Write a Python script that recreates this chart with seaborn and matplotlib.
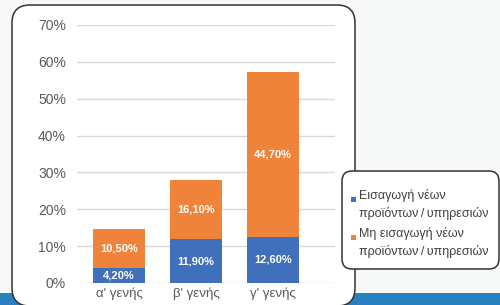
import numpy as np
import pandas as pd
import matplotlib
matplotlib.use("Agg")
import matplotlib.pyplot as plt
from matplotlib.patches import FancyBboxPatch, Rectangle
import seaborn as sns

sns.set_theme(style="white")
plt.rcParams['font.family'] = ['Liberation Sans', 'DejaVu Sans']

# data
categories = ["α' γενής", "β' γενής", "γ' γενής"]
introduced = [4.2, 11.9, 12.6]
not_introduced = [10.5, 16.1, 44.7]
series_names = ["Εισαγωγή νέων\nπροϊόντων\u2009/\u2009υπηρεσιών",
                "Μη εισαγωγή νέων\nπροϊόντων\u2009/\u2009υπηρεσιών"]
y_ticks = [0, 10, 20, 30, 40, 50, 60, 70]

BLUE = '#4070bb'
ORANGE = '#f0833a'
GREY = '#595959'

df = pd.DataFrame({'cat': categories,
                   'intro': introduced,
                   'nointro': not_introduced})
df['total'] = df['intro'] + df['nointro']

W, H = 500, 305
fig = plt.figure(figsize=(W / 100, H / 100), dpi=100)
fig.patch.set_facecolor('#f7f8f8')

# background layer in pixel coords (y down)
bg = fig.add_axes([0, 0, 1, 1], zorder=0)
bg.set_xlim(0, W)
bg.set_ylim(H, 0)
bg.axis('off')
bg.add_patch(Rectangle((0, 293), W, 14, facecolor='#2680c2', edgecolor='none'))
bg.add_patch(FancyBboxPatch((12, 5), 343, 301,
                            boxstyle="round,pad=0,rounding_size=18",
                            facecolor='white', edgecolor='#333333', lw=1.1))

# chart axes
ax = fig.add_axes([77 / W, (H - 283) / H, 258 / W, 258 / H], zorder=1)
ax.set_facecolor('none')
sns.barplot(data=df, x='cat', y='total', color=ORANGE, width=0.675,
            saturation=1, linewidth=0, ax=ax, zorder=3)
sns.barplot(data=df, x='cat', y='intro', color=BLUE, width=0.675,
            saturation=1, linewidth=0, ax=ax, zorder=4)

ax.set_ylim(0, 70)
ax.set_xlim(-0.545, 2.805)
ax.set_yticks(y_ticks)
ax.set_yticklabels([f"{t}%" for t in y_ticks])
ax.yaxis.grid(True, color='#d9d9d9', lw=1, zorder=0)
ax.set_axisbelow(True)
for s in ax.spines.values():
    s.set_visible(False)
ax.tick_params(axis='y', length=0, pad=8, labelsize=10, labelcolor=GREY)
ax.tick_params(axis='x', length=0, pad=3, labelsize=9.5, labelcolor=GREY)
ax.set_xlabel('')
ax.set_ylabel('')


def fmt(v):
    return f"{v:.2f}".replace('.', ',') + '%'


for i, row in df.iterrows():
    ax.text(i, row['intro'] / 2, fmt(row['intro']), ha='center', va='center',
            color='white', fontsize=8, fontweight='bold', zorder=5)
    ax.text(i, row['intro'] + row['nointro'] / 2, fmt(row['nointro']),
            ha='center', va='center', color='white', fontsize=8,
            fontweight='bold', zorder=5)

# legend panel on top
fg = fig.add_axes([0, 0, 1, 1], zorder=2)
fg.set_xlim(0, W)
fg.set_ylim(H, 0)
fg.axis('off')
fg.set_facecolor('none')
fg.add_patch(FancyBboxPatch((342, 171), 157, 98,
                            boxstyle="round,pad=0,rounding_size=10",
                            facecolor='white', edgecolor='#333333', lw=1.1))
for (name, col, y0) in [(series_names[0], BLUE, 196), (series_names[1], ORANGE, 234)]:
    fg.add_patch(Rectangle((351, y0 + 1), 5, 5, facecolor=col, edgecolor='none'))
    l1, l2 = name.split('\n')
    fg.text(359, y0, l1, ha='left', va='center', fontsize=9, color='#404040')
    fg.text(359, y0 + 17, l2, ha='left', va='center', fontsize=9, color='#404040')

fig.savefig('out.png', dpi=100, facecolor=fig.get_facecolor())
